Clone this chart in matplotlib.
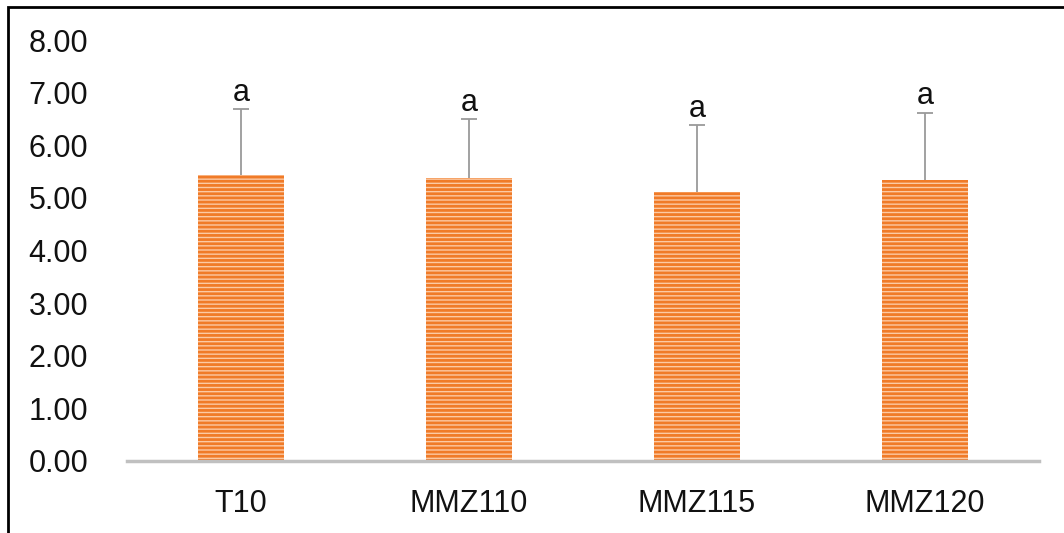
import numpy as np
import matplotlib
matplotlib.use("Agg")
import matplotlib.pyplot as plt
from matplotlib.patches import Rectangle

plt.rcParams['font.family'] = ['Liberation Sans', 'DejaVu Sans']
plt.rcParams['hatch.linewidth'] = 2.0

groups = ["T10", "MMZ110", "MMZ115", "MMZ120"]
means = np.array([5.44, 5.38, 5.12, 5.34])
errs = np.array([1.25, 1.12, 1.26, 1.28])
letters = ["a", "a", "a", "a"]
yticks = [0, 1, 2, 3, 4, 5, 6, 7, 8]

fig = plt.figure(figsize=(10.64, 5.33), dpi=100)
ax = fig.add_axes([127 / 1064, 72 / 533, 912 / 1064, 421 / 533])

x = np.arange(len(groups))
ax.bar(x, means, width=0.377, color='#fccaa4', edgecolor='#f07b28',
       linewidth=0, hatch='----', zorder=2)

# upper error bars only, the bar hides the lower half
tops = means + errs
ax.vlines(x, means, tops, colors='#9a9a9a', linewidth=1.3, zorder=3)
ax.plot(x, tops, linestyle='none', marker='_', markersize=11,
        markeredgewidth=1.3, color='#9a9a9a', zorder=3)

for xi, t, lab in zip(x, tops, letters):
    ax.annotate(lab, (xi, t), xytext=(0, 1), textcoords='offset points',
                ha='center', va='bottom', fontsize=22, color='#111111')

ax.set_xlim(-0.5, 3.5)
ax.set_ylim(0, 8)
ax.set_yticks(yticks)
ax.set_yticklabels(["{:.2f}".format(v) for v in yticks])
ax.set_xticks(x)
ax.set_xticklabels(groups)
ax.tick_params(axis='both', length=0, labelsize=22, colors='#111111')
ax.tick_params(axis='y', pad=28)
ax.tick_params(axis='x', pad=20)

for side in ['top', 'right', 'left']:
    ax.spines[side].set_visible(False)
ax.spines['bottom'].set_color('#c0c0c0')
ax.spines['bottom'].set_linewidth(2.5)

# outer frame, running off the right and bottom edges
fig.patches.append(Rectangle((8 / 1064, -0.1), 1.2, 1 - 7 / 533 + 0.1,
                             transform=fig.transFigure, fill=False,
                             edgecolor='black', linewidth=2))

fig.savefig("out.png", dpi=100)
